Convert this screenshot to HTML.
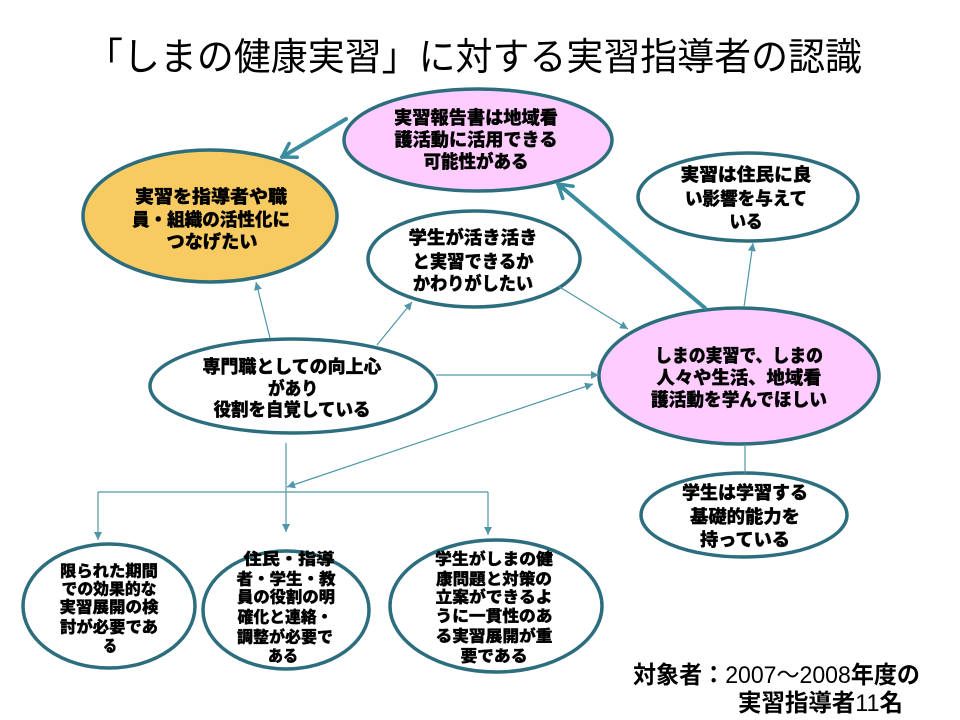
<!DOCTYPE html>
<html lang="ja">
<head>
<meta charset="utf-8">
<style>
  html, body { margin:0; padding:0; background:#fff; }
  body { width:960px; height:720px; overflow:hidden; }
  svg { display:block; }
  .t { font-family:"Liberation Sans","Noto Sans CJK JP",sans-serif; font-weight:900; fill:#000; stroke:#000; stroke-width:0.35; dominant-baseline:central; text-anchor:middle; }
  .s18 { font-size:18px; }
  .s16 { font-size:16px; }
</style>
</head>
<body>
<svg width="960" height="720" viewBox="0 0 960 720" xmlns="http://www.w3.org/2000/svg">
  <defs>
    <marker id="thin" viewBox="0 0 10 10" refX="10" refY="5" markerWidth="9" markerHeight="8" markerUnits="userSpaceOnUse" orient="auto-start-reverse">
      <path d="M0,0 L10,5 L0,10 z" fill="#4F97A8"/>
    </marker>
    <marker id="thick" viewBox="0 0 20 20" refX="18" refY="10" markerWidth="20" markerHeight="20" markerUnits="userSpaceOnUse" orient="auto">
      <path d="M5,2 L18,10 L5,18" fill="none" stroke="#3A8C9E" stroke-width="3.5" stroke-linecap="round" stroke-linejoin="round"/>
    </marker>
  </defs>

  <!-- Title -->
  <text x="86" y="58" font-family="'Liberation Sans','Noto Sans CJK JP',sans-serif" font-size="38" font-weight="400" dominant-baseline="central" textLength="776" lengthAdjust="spacingAndGlyphs" fill="#000">「しまの健康実習」に対する実習指導者の認識</text>

  <!-- Ellipses -->
  <g stroke="#2D6E7E" stroke-width="3.5">
    <ellipse cx="478" cy="140" rx="134" ry="51" fill="#FFCCFF"/>
    <ellipse cx="210" cy="216" rx="127" ry="66" fill="#F8CB62"/>
    <ellipse cx="748" cy="197" rx="110" ry="44" fill="#FFFFFF"/>
    <ellipse cx="474" cy="259" rx="106" ry="48" fill="#FFFFFF"/>
    <ellipse cx="293" cy="386" rx="143" ry="47" fill="#FFFFFF"/>
    <ellipse cx="739" cy="376" rx="140" ry="68" fill="#FFCCFF"/>
    <ellipse cx="744" cy="515" rx="103" ry="42" fill="#FFFFFF"/>
    <ellipse cx="109" cy="606" rx="86" ry="62" fill="#FFFFFF"/>
    <ellipse cx="286" cy="610" rx="83" ry="59" fill="#FFFFFF"/>
    <ellipse cx="496" cy="606" rx="106" ry="66" fill="#FFFFFF"/>
  </g>

  <!-- Thin connectors -->
  <g stroke="#4F97A8" stroke-width="1.2" fill="none">
    <line x1="270" y1="338" x2="256" y2="282" marker-end="url(#thin)"/>
    <line x1="377" y1="345" x2="412" y2="302" marker-end="url(#thin)"/>
    <line x1="558" y1="286" x2="628" y2="329" marker-end="url(#thin)"/>
    <line x1="436" y1="375" x2="599" y2="375" marker-end="url(#thin)"/>
    <line x1="744" y1="307" x2="753" y2="243" marker-end="url(#thin)"/>
    <line x1="745" y1="444" x2="745" y2="473"/>
    <line x1="286" y1="443" x2="286" y2="532" marker-end="url(#thin)"/>
    <line x1="98" y1="492" x2="488" y2="492"/>
    <line x1="98" y1="492" x2="98" y2="540" marker-end="url(#thin)"/>
    <line x1="488" y1="492" x2="488" y2="535" marker-end="url(#thin)"/>
    <line x1="287" y1="487" x2="593" y2="384" marker-start="url(#thin)" marker-end="url(#thin)"/>
  </g>

  <!-- Thick arrows -->
  <g stroke="#3A8C9E" stroke-width="4" fill="none" stroke-linecap="round">
    <line x1="705" y1="308" x2="558" y2="184" marker-end="url(#thick)"/>
    <line x1="346" y1="119" x2="282" y2="157" marker-end="url(#thick)"/>
  </g>

  <!-- Labels: top pink -->
  <text class="t s18" x="476" y="118" textLength="164" lengthAdjust="spacingAndGlyphs">実習報告書は地域看</text>
  <text class="t s18" x="476" y="140" textLength="163" lengthAdjust="spacingAndGlyphs">護活動に活用できる</text>
  <text class="t s18" x="476" y="162" textLength="105" lengthAdjust="spacingAndGlyphs">可能性がある</text>

  <!-- orange -->
  <text class="t s18" x="211" y="197" textLength="152" lengthAdjust="spacingAndGlyphs">実習を指導者や職</text>
  <text class="t s18" x="211" y="220" textLength="158" lengthAdjust="spacingAndGlyphs">員・組織の活性化に</text>
  <text class="t s18" x="212" y="242" textLength="91" lengthAdjust="spacingAndGlyphs">つなげたい</text>

  <!-- top right -->
  <text class="t s18" x="746" y="175" textLength="131" lengthAdjust="spacingAndGlyphs">実習は住民に良</text>
  <text class="t s18" x="746" y="199" textLength="122" lengthAdjust="spacingAndGlyphs">い影響を与えて</text>
  <text class="t s18" x="746" y="222" textLength="33" lengthAdjust="spacingAndGlyphs">いる</text>

  <!-- middle -->
  <text class="t s18" x="473" y="238" textLength="129" lengthAdjust="spacingAndGlyphs">学生が活き活き</text>
  <text class="t s18" x="473" y="262" textLength="121" lengthAdjust="spacingAndGlyphs">と実習できるか</text>
  <text class="t s18" x="473" y="284" textLength="120" lengthAdjust="spacingAndGlyphs">かわりがしたい</text>

  <!-- left middle -->
  <text class="t s18" x="292" y="367" textLength="179" lengthAdjust="spacingAndGlyphs">専門職としての向上心</text>
  <text class="t s18" x="293" y="389" textLength="50" lengthAdjust="spacingAndGlyphs">があり</text>
  <text class="t s18" x="292" y="410" textLength="157" lengthAdjust="spacingAndGlyphs">役割を自覚している</text>

  <!-- right pink -->
  <text class="t s18" x="739" y="356" textLength="168" lengthAdjust="spacingAndGlyphs">しまの実習で、しまの</text>
  <text class="t s18" x="739" y="378" textLength="165" lengthAdjust="spacingAndGlyphs">人々や生活、地域看</text>
  <text class="t s18" x="739" y="400" textLength="176" lengthAdjust="spacingAndGlyphs">護活動を学んでほしい</text>

  <!-- bottom right -->
  <text class="t s18" x="745" y="493" textLength="126" lengthAdjust="spacingAndGlyphs">学生は学習する</text>
  <text class="t s18" x="745" y="517" textLength="110" lengthAdjust="spacingAndGlyphs">基礎的能力を</text>
  <text class="t s18" x="745" y="540" textLength="90" lengthAdjust="spacingAndGlyphs">持っている</text>

  <!-- bottom left -->
  <text class="t s16" x="109" y="572" textLength="98" lengthAdjust="spacingAndGlyphs">限られた期間</text>
  <text class="t s16" x="109" y="590" textLength="95" lengthAdjust="spacingAndGlyphs">での効果的な</text>
  <text class="t s16" x="109" y="608" textLength="99" lengthAdjust="spacingAndGlyphs">実習展開の検</text>
  <text class="t s16" x="109" y="628" textLength="98" lengthAdjust="spacingAndGlyphs">討が必要であ</text>
  <text class="t s16" x="110" y="647" textLength="14" lengthAdjust="spacingAndGlyphs">る</text>

  <!-- bottom middle -->
  <text class="t s16" x="289" y="560" textLength="91" lengthAdjust="spacingAndGlyphs">住民・指導</text>
  <text class="t s16" x="286" y="580" textLength="99" lengthAdjust="spacingAndGlyphs">者・学生・教</text>
  <text class="t s16" x="286" y="598" textLength="98" lengthAdjust="spacingAndGlyphs">員の役割の明</text>
  <text class="t s16" x="285" y="618" textLength="95" lengthAdjust="spacingAndGlyphs">確化と連絡・</text>
  <text class="t s16" x="285" y="638" textLength="96" lengthAdjust="spacingAndGlyphs">調整が必要で</text>
  <text class="t s16" x="283" y="657" textLength="30" lengthAdjust="spacingAndGlyphs">ある</text>

  <!-- bottom right of three -->
  <text class="t s16" x="494" y="560" textLength="118" lengthAdjust="spacingAndGlyphs">学生がしまの健</text>
  <text class="t s16" x="494" y="580" textLength="116" lengthAdjust="spacingAndGlyphs">康問題と対策の</text>
  <text class="t s16" x="494" y="598" textLength="117" lengthAdjust="spacingAndGlyphs">立案ができるよ</text>
  <text class="t s16" x="494" y="617" textLength="117" lengthAdjust="spacingAndGlyphs">うに一貫性のあ</text>
  <text class="t s16" x="494" y="637" textLength="117" lengthAdjust="spacingAndGlyphs">る実習展開が重</text>
  <text class="t s16" x="494" y="657" textLength="67" lengthAdjust="spacingAndGlyphs">要である</text>

  <!-- footer -->
  <text x="633" y="675" font-family="'Liberation Sans','Noto Sans CJK JP',sans-serif" font-size="24" dominant-baseline="central" textLength="287" lengthAdjust="spacingAndGlyphs" fill="#000"><tspan font-weight="700">対象者：</tspan><tspan font-weight="400">2007～2008</tspan><tspan font-weight="700">年度の</tspan></text>
  <text x="738" y="703" font-family="'Liberation Sans','Noto Sans CJK JP',sans-serif" font-size="24" dominant-baseline="central" textLength="165" lengthAdjust="spacingAndGlyphs" fill="#000"><tspan font-weight="700">実習指導者</tspan><tspan font-weight="400">11</tspan><tspan font-weight="700">名</tspan></text>
</svg>
</body>
</html>
